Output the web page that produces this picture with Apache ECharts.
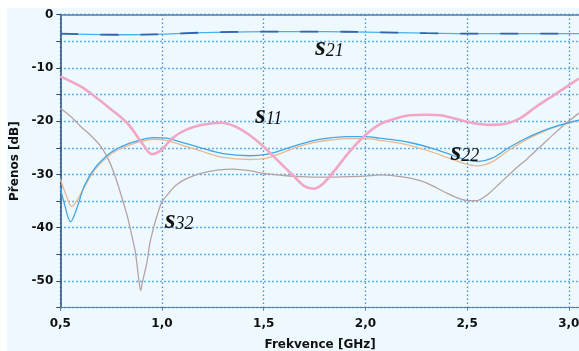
<!DOCTYPE html>
<html><head><meta charset="utf-8">
<script src="https://cdn.jsdelivr.net/npm/echarts@6/dist/echarts.min.js"></script>
<style>html,body{margin:0;padding:0;background:#fff}#c{width:579px;height:351px}</style>
</head><body><div id="c"></div>
<script>
// ---- data ----
const xTicks = [0.5, 1.0, 1.5, 2.0, 2.5, 3.0];
const yTicks = [0, -10, -20, -30, -40, -50];

const s21X = [0.5, 0.8, 1.0, 1.2, 1.5, 1.8, 2.0, 2.3, 2.6, 3.05];
const s21Y = [-3.6, -3.8, -3.7, -3.4, -3.2, -3.2, -3.3, -3.5, -3.6, -3.6];

const s11X = [0.5, 0.6, 0.66, 0.75, 0.83, 0.9, 0.95, 1.0, 1.05, 1.12, 1.2, 1.29, 1.36, 1.43, 1.5, 1.58, 1.65, 1.7, 1.745, 1.79, 1.85, 1.92, 2.0, 2.07, 2.15, 2.22, 2.3, 2.37, 2.45, 2.5, 2.57, 2.63, 2.7, 2.76, 2.84, 2.94, 3.05];
const s11Y = [-11.6, -13.5, -15.1, -17.8, -20.4, -24.0, -26.2, -25.3, -23.2, -21.6, -20.7, -20.3, -21.0, -22.6, -24.8, -27.8, -30.4, -32.2, -32.7, -31.8, -29.2, -25.8, -22.6, -20.6, -19.5, -18.9, -18.8, -18.9, -19.6, -20.1, -20.6, -20.7, -20.4, -19.5, -17.3, -14.8, -12.0];

const s22X = [0.5, 0.52, 0.551, 0.58, 0.62, 0.67, 0.745, 0.8, 0.86, 0.96, 1.02, 1.09, 1.19, 1.3, 1.43, 1.52, 1.6, 1.68, 1.76, 1.84, 1.91, 2.0, 2.07, 2.16, 2.24, 2.32, 2.4, 2.48, 2.55, 2.62, 2.7, 2.78, 2.86, 2.95, 3.05];
const s22Y = [-32.5, -35.5, -38.9, -36.5, -32.0, -28.8, -26.0, -24.8, -23.9, -23.1, -23.2, -23.9, -25.0, -26.1, -26.5, -26.2, -25.3, -24.3, -23.5, -23.1, -22.9, -22.9, -23.2, -23.6, -24.2, -25.0, -26.0, -27.1, -27.6, -27.0, -25.1, -23.4, -22.0, -20.8, -19.8];

const s33X = [0.5, 0.53, 0.556, 0.58, 0.62, 0.67, 0.745, 0.8, 0.86, 0.96, 1.02, 1.09, 1.19, 1.3, 1.43, 1.52, 1.6, 1.68, 1.76, 1.84, 1.91, 2.0, 2.07, 2.16, 2.24, 2.32, 2.4, 2.48, 2.55, 2.62, 2.7, 2.78, 2.86, 2.95, 3.05];
const s33Y = [-30.8, -34.0, -36.0, -35.0, -32.3, -29.1, -26.3, -25.1, -24.2, -23.4, -23.6, -24.4, -25.6, -26.8, -27.2, -26.9, -25.8, -24.7, -23.9, -23.5, -23.3, -23.3, -23.6, -24.1, -24.8, -25.7, -26.8, -27.9, -28.4, -27.7, -25.6, -23.7, -22.2, -20.9, -19.9];

const s32X = [0.5, 0.55, 0.6, 0.65, 0.7, 0.74, 0.77, 0.8, 0.83, 0.85, 0.87, 0.885, 0.895, 0.905, 0.925, 0.94, 0.96, 0.98, 1.0, 1.04, 1.07, 1.12, 1.19, 1.27, 1.35, 1.43, 1.5, 1.6, 1.68, 1.8, 1.93, 2.0, 2.07, 2.15, 2.22, 2.3, 2.4, 2.46, 2.5, 2.55, 2.6, 2.66, 2.73, 2.8, 2.86, 2.93, 3.0, 3.05];
const s32Y = [-17.6, -19.1, -21.0, -22.7, -24.8, -27.5, -30.4, -34.0, -37.9, -41.2, -44.8, -49.5, -51.8, -50.0, -46.7, -43.0, -39.8, -37.2, -35.1, -33.2, -32.0, -30.8, -29.8, -29.2, -29.0, -29.3, -29.8, -30.2, -30.4, -30.5, -30.4, -30.3, -30.1, -30.3, -30.7, -31.6, -33.5, -34.5, -34.9, -34.9, -33.8, -31.7, -29.2, -26.9, -24.8, -22.3, -20.0, -18.5];

const annNames = ['21', '11', '22', '32'];
const annX = [1.753, 1.458, 2.42, 1.015];
const annY = [-6.3, -19.0, -26.0, -38.7];

const pairs = (xs, ys) => xs.map((x, i) => [x, ys[i]]);

const chart = echarts.init(document.getElementById('c'));
const gridColor = '#3f92d6';
const font = 'DejaVu Sans';

function lineSeries(name, xs, ys, color, width, extra) {
  return Object.assign({
    name, type: 'line', data: pairs(xs, ys), showSymbol: false, smooth: 0.35,
    lineStyle: { color, width }, silent: true, animation: false
  }, extra || {});
}

chart.setOption({
  animation: false,
  backgroundColor: '#ffffff',
  grid: { left: 60.3, right: -1, top: 14.5, bottom: 43.3, containLabel: false, outerBoundsMode: 'none' },
  xAxis: [{
    type: 'value', min: 0.5, max: 3.055, interval: 0.5,
    name: 'Frekvence [GHz]', nameLocation: 'middle', nameGap: 31,
    nameTextStyle: { fontFamily: font, fontWeight: 'bold', fontSize: 12, color: '#111' },
    axisLine: { show: true, onZero: false, lineStyle: { color: '#5b7fa6', width: 1.2 } },
    axisTick: { show: true, length: 3, lineStyle: { color: '#5b7fa6' } },
    axisLabel: { fontFamily: font, fontWeight: 'bold', fontSize: 12, color: '#111', margin: 10, showMaxLabel: false,
      formatter: v => xTicks.some(t => Math.abs(t - v) < 1e-6) ? v.toFixed(1).replace('.', ',') : '' },
    splitLine: { show: true, lineStyle: { color: gridColor, type: [1.5, 2.5], width: 1.3 } }
  }, {
    type: 'value', position: 'top', min: 0.5, max: 3.055,
    axisLine: { show: true, lineStyle: { color: '#4f7db3', width: 1.5 } },
    axisTick: { show: false }, axisLabel: { show: false }, splitLine: { show: false }
  }],
  yAxis: {
    type: 'value', min: -55, max: 0, interval: 5,
    name: 'Přenos [dB]', nameLocation: 'middle', nameGap: 28, nameRotate: 90,
    nameTextStyle: { fontFamily: font, fontWeight: 'bold', fontSize: 12, color: '#111' },
    axisLine: { show: true, lineStyle: { color: '#244b7c', width: 1.5 } },
    axisTick: { show: true, length: 4, lineStyle: { color: '#244b7c' } },
    axisLabel: { fontFamily: font, fontWeight: 'bold', fontSize: 12, color: '#111', margin: 7,
      formatter: v => yTicks.includes(v) ? String(v) : '' },
    splitLine: { show: true, lineStyle: { color: gridColor, type: [1.5, 2.5], width: 1.3 } }
  },
  graphic: [{
    type: 'rect', id: 'bg', z: -10, silent: true,
    shape: { x: 7, y: 8, width: 572, height: 343 },
    style: { fill: '#edf9fe' }
  }],
  series: [
    lineSeries('S32', s32X, s32Y, '#b8a2a2', 1.3, { smooth: 0.25 }),
    lineSeries('S33', s33X, s33Y, '#e9b892', 1.3),
    lineSeries('S22', s22X, s22Y, '#43a6e6', 1.3),
    lineSeries('S11', s11X, s11Y, '#f2a6c4', 2.6, { smooth: 0.3 }),
    lineSeries('S21', s21X, s21Y, '#47b0ea', 1.3),
    lineSeries('S21b', s21X, s21Y, '#3563ad', 1.8, { lineStyle: { color: '#3563ad', width: 1.8, type: [18, 22] } })
  ]
});

const annGraphics = annNames.map((n, i) => {
  const p = chart.convertToPixel({ gridIndex: 0 }, [annX[i], annY[i]]);
  return {
    type: 'text', id: 'ann' + i, z: 20, silent: true,
    x: p[0], y: p[1],
    style: {
      text: '{s|s}{n|' + n + '}',
      align: 'left', verticalAlign: 'middle',
      rich: {
        s: { fontFamily: 'Liberation Serif', fontStyle: 'italic', fontWeight: 'bold', fontSize: 27, fill: '#111' },
        n: { fontFamily: 'Liberation Serif', fontStyle: 'italic', fontSize: 18, fill: '#111', padding: [6, 0, 0, 0] }
      }
    }
  };
});
chart.setOption({ graphic: annGraphics });
</script></body></html>
